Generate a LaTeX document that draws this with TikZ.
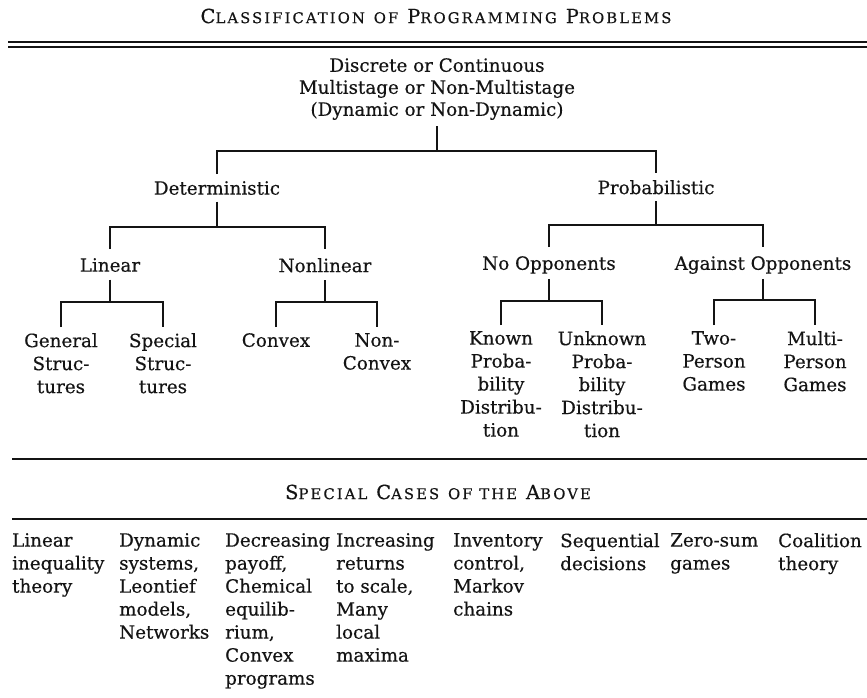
\documentclass[tikz,border=0pt]{standalone}
\usepackage{fontspec}
\setmainfont{DejaVu Serif}[FakeBold=0.4]
\newfontfamily\capsfont[LetterSpace=14,FakeBold=0.4]{DejaVu Serif}
\newcommand{\smallcaps}[2]{#1{\fontsize{14.8}{17}\selectfont #2}}

\begin{document}
\begin{tikzpicture}[x=1pt,y=-1pt,
  every node/.style={inner sep=0pt,text=inkcolor,font=\fontsize{18.3}{23}\selectfont},
  treebox/.style={anchor=north,align=center},
  casebox/.style={anchor=north west,align=left},
  headline/.style={font=\capsfont\fontsize{19.5}{21}\selectfont},
  branch/.style={draw=inkcolor,line width=1.1pt},
  rule/.style={draw=inkcolor,line width=1.4pt}]
\definecolor{inkcolor}{RGB}{20,20,20}
\useasboundingbox (0,0) rectangle (867,697);
\node [headline] (title) at (436,16) {\smallcaps{C}{LASSIFICATION} \smallcaps{}{OF} \smallcaps{P}{ROGRAMMING} \smallcaps{P}{ROBLEMS}};
\draw [rule] (8,42) -- (867,42);
\draw [rule] (8,47) -- (867,47);
\node [treebox,font=\fontsize{18.3}{22}\selectfont] (root) at (437,58) {Discrete or Continuous\\Multistage or Non-Multistage\\(Dynamic or Non-Dynamic)};
\node [treebox] (det) at (217,181) {Deterministic};
\node [treebox] (prob) at (656,180) {Probabilistic};
\node [treebox] (lin) at (110,258) {Linear};
\node [treebox] (nonlin) at (325,258) {Nonlinear};
\node [treebox] (noopp) at (549,256) {No Opponents};
\node [treebox] (againstopp) at (763,256) {Against Opponents};
\node [treebox] (general) at (61,333) {General\\Struc-\\tures};
\node [treebox] (special) at (163,333) {Special\\Struc-\\tures};
\node [treebox] (convex) at (276,333) {Convex};
\node [treebox] (nonconvex) at (377,333) {Non-\\Convex};
\node [treebox] (known) at (501,331) {Known\\Proba-\\bility\\Distribu-\\tion};
\node [treebox] (unknown) at (602,331) {Unknown\\Proba-\\bility\\Distribu-\\tion};
\node [treebox] (twoperson) at (714,331) {Two-\\Person\\Games};
\node [treebox] (multiperson) at (815,331) {Multi-\\Person\\Games};
\coordinate (rootfork) at (437,151);
\coordinate (detfork) at (217,227);
\coordinate (probfork) at (656,225);
\coordinate (linfork) at (110,302);
\coordinate (nonlinfork) at (325,302);
\coordinate (nooppfork) at (549,301);
\coordinate (againstfork) at (763,300);
\draw [branch] ([yshift=-6pt]root.south) -- (rootfork);
\draw [branch] ([yshift=7pt]det.north) |- (rootfork) -| ([yshift=7pt]prob.north);
\draw [branch] ([yshift=-7pt]det.base) -- (detfork);
\draw [branch] ([yshift=9pt]lin.north) |- (detfork) -| ([yshift=9pt]nonlin.north);
\draw [branch] ([yshift=-7pt]prob.base) -- (probfork);
\draw [branch] ([yshift=9pt]noopp.north) |- (probfork) -| ([yshift=9pt]againstopp.north);
\draw [branch] ([yshift=-8pt]lin.base) -- (linfork);
\draw [branch] ([yshift=6pt]general.north) |- (linfork) -| ([yshift=6pt]special.north);
\draw [branch] ([yshift=-8pt]nonlin.base) -- (nonlinfork);
\draw [branch] ([yshift=6pt]convex.north) |- (nonlinfork) -| ([yshift=6pt]nonconvex.north);
\draw [branch] ([yshift=-9pt]noopp.base) -- (nooppfork);
\draw [branch] ([yshift=6pt]known.north) |- (nooppfork) -| ([yshift=6pt]unknown.north);
\draw [branch] ([yshift=-9pt]againstopp.base) -- (againstfork);
\draw [branch] ([yshift=6pt]twoperson.north) |- (againstfork) -| ([yshift=6pt]multiperson.north);
\draw [rule] (12,459) -- (867,459);
\node [headline] (casestitle) at (438,492) {\smallcaps{S}{PECIAL} \smallcaps{C}{ASES} \smallcaps{}{OF THE} \smallcaps{A}{BOVE}};
\draw [rule] (12,519) -- (867,519);
\node [casebox] (inequality) at (12,533) {Linear\\inequality\\theory};
\node [casebox] (dynamic) at (119,533) {Dynamic\\systems,\\Leontief\\models,\\Networks};
\node [casebox] (decreasing) at (225,533) {Decreasing\\payoff,\\Chemical\\equilib-\\rium,\\Convex\\programs};
\node [casebox] (increasing) at (336,533) {Increasing\\returns\\to scale,\\Many\\local\\maxima};
\node [casebox] (inventory) at (453,533) {Inventory\\control,\\Markov\\chains};
\node [casebox] (sequential) at (560,533) {Sequential\\decisions};
\node [casebox] (zerosum) at (670,533) {Zero-sum\\games};
\node [casebox] (coalition) at (778,533) {Coalition\\theory};
\end{tikzpicture}
\end{document}
